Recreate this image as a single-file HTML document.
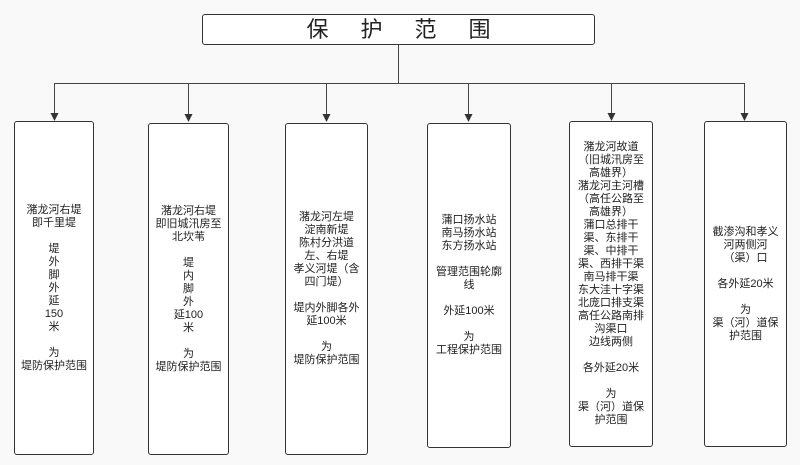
<!DOCTYPE html>
<html><head><meta charset="utf-8"><style>
body{margin:0;width:800px;height:465px;background:#f9f9f9;position:relative;overflow:hidden;font-family:"Liberation Sans","Noto Sans CJK SC",sans-serif;}
.b{position:absolute;border:1px solid #333;border-radius:3px;background:#fff;box-sizing:border-box;display:flex;align-items:center;justify-content:center;text-align:center;font-size:11px;line-height:13px;color:#222;}
svg{position:absolute;left:0;top:0}
</style></head><body>
<svg width="800" height="465">
<g stroke="#444" stroke-width="1" fill="none">
<line x1="398.5" y1="45" x2="398.5" y2="83"/>
<line x1="54.5" y1="83.5" x2="744.5" y2="83.5"/>
<line x1="54.5" y1="83" x2="54.5" y2="114"/>
<line x1="188.5" y1="83" x2="188.5" y2="115"/>
<line x1="326.5" y1="83" x2="326.5" y2="115"/>
<line x1="468.5" y1="83" x2="468.5" y2="115"/>
<line x1="611.5" y1="83" x2="611.5" y2="114"/>
<line x1="744.5" y1="83" x2="744.5" y2="114"/>
</g>
<g fill="#333">
<polygon points="50.5,113 58.5,113 54.5,121"/>
<polygon points="184.5,114 192.5,114 188.5,122"/>
<polygon points="322.5,114 330.5,114 326.5,122"/>
<polygon points="464.5,114 472.5,114 468.5,122"/>
<polygon points="607.5,113 615.5,113 611.5,121"/>
<polygon points="740.5,113 748.5,113 744.5,121"/>
</g></svg>
<div class="b" style="left:202px;top:14px;width:393px;height:31px;font-size:22px;letter-spacing:32px;padding-left:32px;">保护范围</div>
<div class="b" style="left:14px;top:121px;width:80px;height:334px;">潴龙河右堤<br>即千里堤<br><br>堤<br>外<br>脚<br>外<br>延<br>150<br>米<br><br>为<br>堤防保护范围</div>
<div class="b" style="left:148px;top:123px;width:81px;height:332px;">潴龙河右堤<br>即旧城汛房至<br>北坎苇<br><br>堤<br>内<br>脚<br>外<br>延100<br>米<br><br>为<br>堤防保护范围</div>
<div class="b" style="left:285px;top:123px;width:83px;height:332px;">潴龙河左堤<br>淀南新堤<br>陈村分洪道<br>左、右堤<br>孝义河堤（含<br>四门堤）<br><br>堤内外脚各外<br>延100米<br><br>为<br>堤防保护范围</div>
<div class="b" style="left:427px;top:123px;width:84px;height:325px;">蒲口扬水站<br>南马扬水站<br>东方扬水站<br><br>管理范围轮廓<br>线<br><br>外延100米<br><br>为<br>工程保护范围</div>
<div class="b" style="left:569px;top:121px;width:84px;height:326px;">潴龙河故道<br>（旧城汛房至<br>高雄界）<br>潴龙河主河槽<br>（高任公路至<br>高雄界）<br>蒲口总排干<br>渠、东排干<br>渠、中排干<br>渠、西排干渠<br>南马排干渠<br>东大洼十字渠<br>北庞口排支渠<br>高任公路南排<br>沟渠口<br>边线两侧<br><br>各外延20米<br><br>为<br>渠（河）道保<br>护范围</div>
<div class="b" style="left:704px;top:121px;width:83px;height:326px;">截渗沟和孝义<br>河两侧河<br>（渠）口<br><br>各外延20米<br><br>为<br>渠（河）道保<br>护范围</div>
</body></html>
